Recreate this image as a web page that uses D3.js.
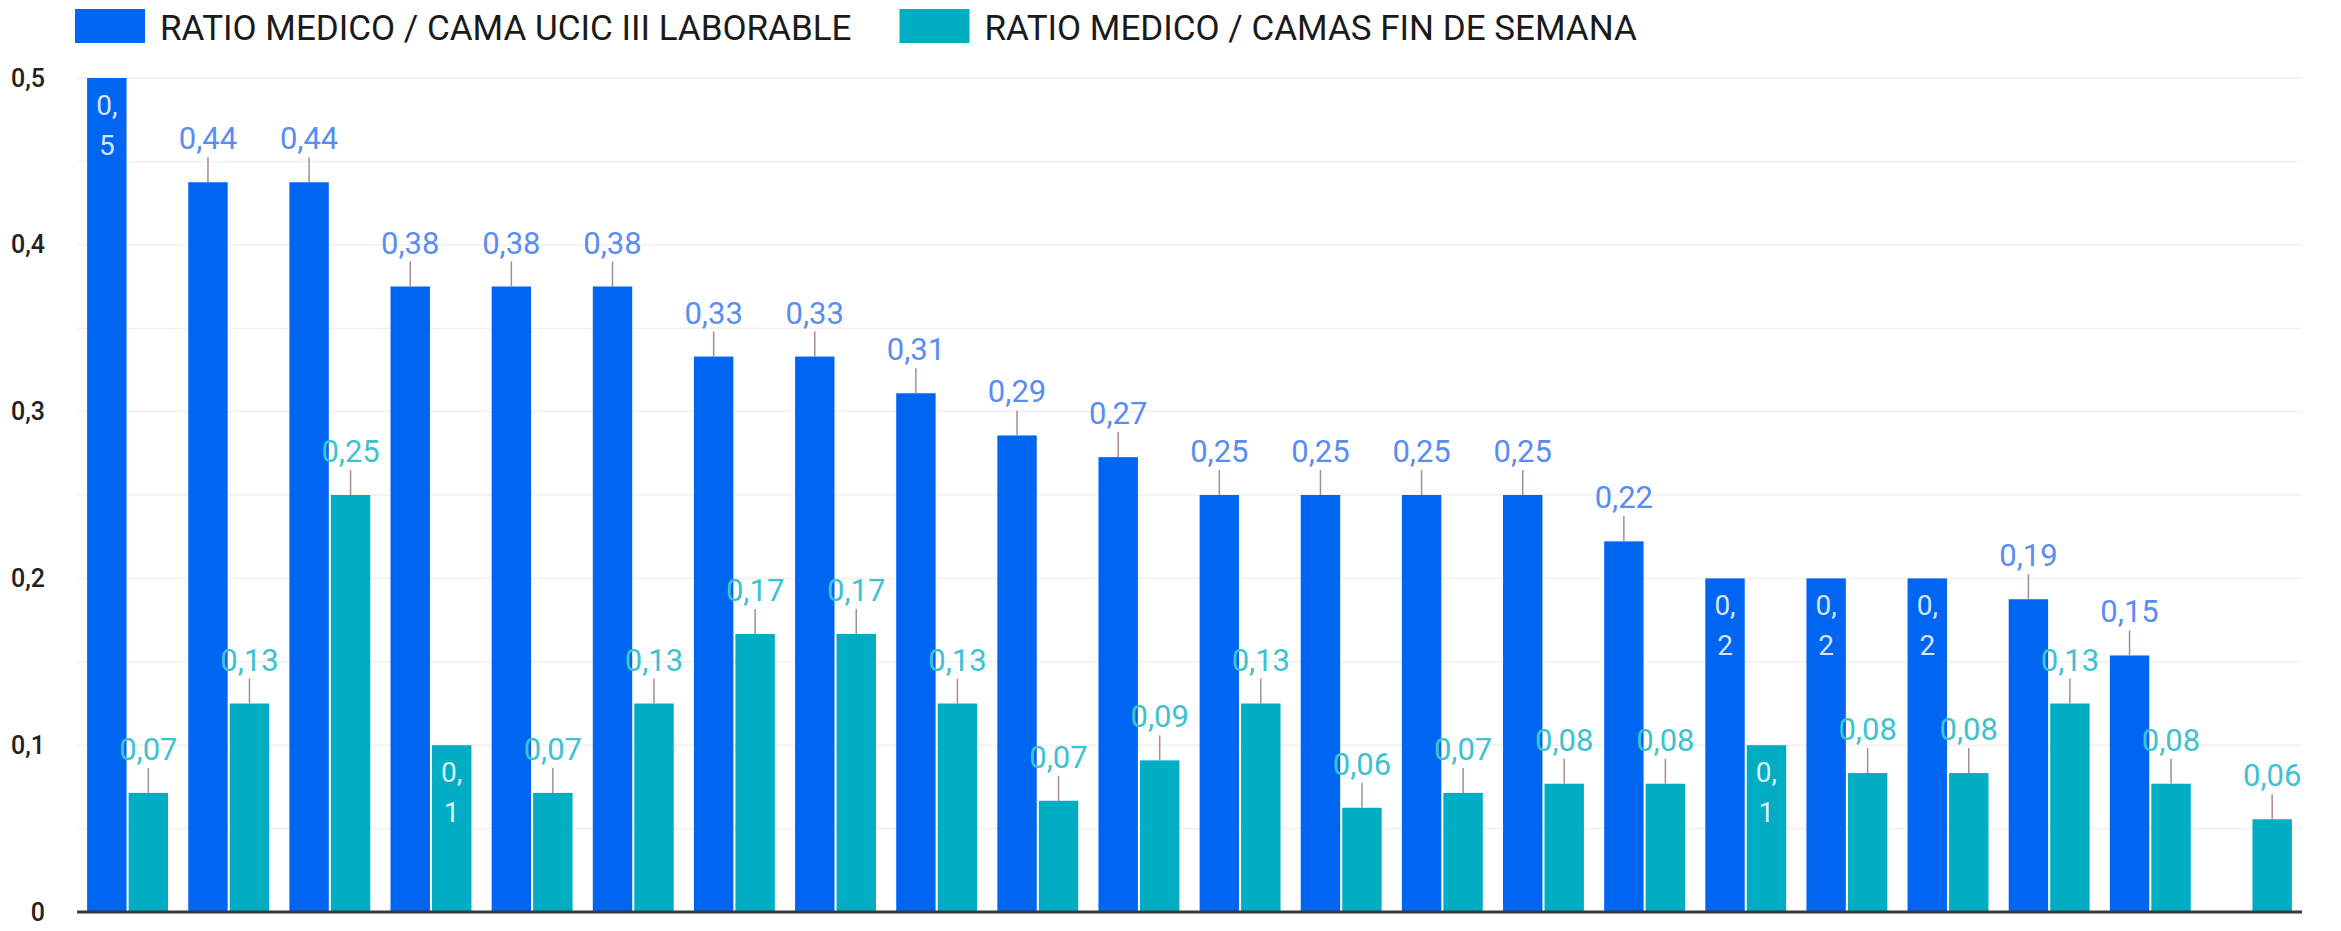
<!DOCTYPE html>
<html>
<head>
<meta charset="utf-8">
<script src="https://cdn.jsdelivr.net/npm/d3@7"></script>
<style>
  body { margin: 0; background: #ffffff; }
  svg text { font-family: Roboto, "Noto Sans", sans-serif; }
</style>
</head>
<body>
<script>
// data
let categories = d3.range(1, 23).map(function (d) { return "C" + d; });
let seriesNames = ["RATIO MEDICO / CAMA UCIC III LABORABLE", "RATIO MEDICO / CAMAS FIN DE SEMANA"];
let laborable = [0.5, 0.4375, 0.4375, 0.375, 0.375, 0.375, 0.333, 0.333, 0.311, 0.2857, 0.2727,
  0.25, 0.25, 0.25, 0.25, 0.2222, 0.2, 0.2, 0.2, 0.1875, 0.1538, null];
let finSemana = [0.0714, 0.125, 0.25, 0.1, 0.0714, 0.125, 0.1667, 0.1667, 0.125, 0.0667, 0.0909,
  0.125, 0.0625, 0.0714, 0.0769, 0.0769, 0.1, 0.0833, 0.0833, 0.125, 0.0769, 0.0556];
let yTicks = [0, 0.1, 0.2, 0.3, 0.4, 0.5];
let colors = ["#0066f2", "#00adc2"];
let labelColors = ["#5a8df2", "#3fc2cf"];
let insideColors = ["#d6e4ff", "#d9f3f6"];

let w = 2341, h = 931;
let margin = {top: 78, right: 39, bottom: 19, left: 77};
let height = h - margin.top - margin.bottom, width = w - margin.left - margin.right;

let svg = d3.select("body").append("svg").attr("width", w).attr("height", h);

function fmt(v) {
  let s = v.toFixed(2).replace(/0+$/, "").replace(/\.$/, "");
  return s.replace(".", ",");
}

let xScale = d3.scaleBand().domain(categories).range([0, width]).paddingInner(0.2).paddingOuter(0.1);
let xInner = d3.scaleBand().domain([0, 1]).range([0, xScale.bandwidth()]).paddingInner(0.05);
let yScale = d3.scaleLinear().domain([0, 0.5]).range([height, 0]);

let g = svg.append("g").attr("transform", "translate(" + margin.left + "," + margin.top + ")");

// faint grid every 0.05
g.append("g").selectAll("line").data(d3.range(1, 11).map(function (i) { return i * 0.05; }))
  .enter().append("line")
  .attr("x1", 0).attr("x2", width)
  .attr("y1", function (d) { return yScale(d); })
  .attr("y2", function (d) { return yScale(d); })
  .attr("stroke", "#f2f0ec").attr("stroke-width", 1.5);

// y axis labels
let yAxis = g.append("g")
  .attr("transform", "translate(-32,0)")
  .call(d3.axisLeft(yScale).tickValues(yTicks).tickSize(0).tickPadding(0)
    .tickFormat(function (d) { return d === 0 ? "0" : fmt(d); }));
yAxis.select(".domain").remove();
yAxis.selectAll("text")
  .attr("font-family", "Roboto, sans-serif")
  .attr("font-size", "25px")
  .attr("font-weight", "500")
  .attr("fill", "#222");

let series = [laborable, finSemana];
let rows = [];
categories.forEach(function (c, i) {
  series.forEach(function (s, k) {
    if (s[i] != null) rows.push({cat: c, k: k, v: s[i], label: fmt(s[i])});
  });
});

let bars = g.selectAll(".bar").data(rows).enter().append("g").attr("class", "bar");

bars.append("rect")
  .attr("x", function (d) { return xScale(d.cat) + xInner(d.k); })
  .attr("y", function (d) { return yScale(d.v); })
  .attr("width", xInner.bandwidth())
  .attr("height", function (d) { return height - yScale(d.v); })
  .attr("fill", function (d) { return colors[d.k]; });

function cx(d) { return xScale(d.cat) + xInner(d.k) + xInner.bandwidth() / 2; }

let above = bars.filter(function (d) { return d.label.length > 3; });
let inside = bars.filter(function (d) { return d.label.length <= 3; });

above.append("line")
  .attr("x1", cx).attr("x2", cx)
  .attr("y1", function (d) { return yScale(d.v); })
  .attr("y2", function (d) { return yScale(d.v) - 25; })
  .attr("stroke", "#a98a94").attr("stroke-width", 1.5);

above.append("text")
  .text(function (d) { return d.label; })
  .attr("x", cx)
  .attr("y", function (d) { return yScale(d.v) - 33; })
  .attr("text-anchor", "middle")
  .attr("font-size", "31px")
  .attr("fill", function (d) { return labelColors[d.k]; });

inside.append("text")
  .attr("text-anchor", "middle")
  .attr("font-size", "28px")
  .attr("fill", function (d) { return insideColors[d.k]; })
  .selectAll("tspan")
  .data(function (d) { return [{d: d, t: "0,", n: 0}, {d: d, t: d.label.slice(2), n: 1}]; })
  .enter().append("tspan")
  .attr("x", function (p) { return cx(p.d); })
  .attr("y", function (p) { return yScale(p.d.v) + 37 + p.n * 40; })
  .text(function (p) { return p.t; });

// baseline
g.append("line")
  .attr("x1", 0).attr("x2", width)
  .attr("y1", height).attr("y2", height)
  .attr("stroke", "#3a3a3a").attr("stroke-width", 3);

// legend
let legend = svg.append("g").attr("transform", "translate(75,9)");
let lx = 0;
seriesNames.forEach(function (name, k) {
  let item = legend.append("g").attr("transform", "translate(" + lx + ",0)");
  item.append("rect").attr("width", 70).attr("height", 34).attr("fill", colors[k]);
  let t = item.append("text").text(name)
    .attr("x", 85).attr("y", 31)
    .attr("font-size", "35px")
    .attr("fill", "#1a1a1a");
  lx += 85 + t.node().getComputedTextLength() + 48;
});
</script>
</body>
</html>
